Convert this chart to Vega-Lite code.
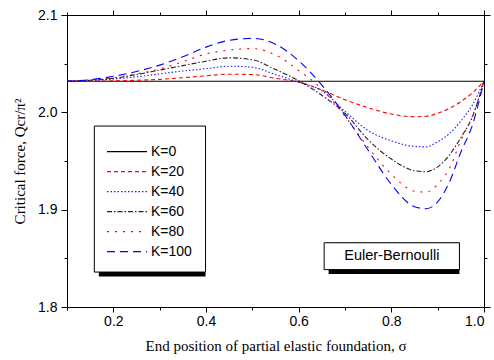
{
  "$schema": "https://vega.github.io/schema/vega-lite/v6.json",
  "autosize": {"type": "none"},
  "padding": {"left": 67, "top": 15, "right": 10, "bottom": 53},
  "width": 417,
  "height": 292,
  "background": "white",
  "config": {
    "view": {"stroke": null},
    "axis": {
      "labelFont": "Liberation Sans",
      "labelFontSize": 14,
      "labelColor": "black",
      "titleFont": "Liberation Serif",
      "titleFontSize": 15,
      "titleFontWeight": "normal",
      "titleColor": "black",
      "domainColor": "black",
      "domainWidth": 1,
      "tickColor": "black",
      "tickWidth": 1,
      "grid": false
    }
  },
  "datasets": {
    "curves": [
      {"s": 0.1, "v": 2.032, "K": "K=0"},
      {"s": 1.0, "v": 2.032, "K": "K=0"},

      {"s": 0.10, "v": 2.0320, "K": "K=20"},
      {"s": 0.15, "v": 2.0321, "K": "K=20"},
      {"s": 0.20, "v": 2.0323, "K": "K=20"},
      {"s": 0.25, "v": 2.0329, "K": "K=20"},
      {"s": 0.30, "v": 2.0339, "K": "K=20"},
      {"s": 0.35, "v": 2.0356, "K": "K=20"},
      {"s": 0.40, "v": 2.0375, "K": "K=20"},
      {"s": 0.45, "v": 2.0392, "K": "K=20"},
      {"s": 0.50, "v": 2.0388, "K": "K=20"},
      {"s": 0.55, "v": 2.0350, "K": "K=20"},
      {"s": 0.60, "v": 2.0310, "K": "K=20"},
      {"s": 0.65, "v": 2.0230, "K": "K=20"},
      {"s": 0.70, "v": 2.0130, "K": "K=20"},
      {"s": 0.75, "v": 2.0047, "K": "K=20"},
      {"s": 0.80, "v": 1.9982, "K": "K=20"},
      {"s": 0.85, "v": 1.9955, "K": "K=20"},
      {"s": 0.875, "v": 1.9960, "K": "K=20"},
      {"s": 0.90, "v": 1.9990, "K": "K=20"},
      {"s": 0.925, "v": 2.0040, "K": "K=20"},
      {"s": 0.95, "v": 2.0110, "K": "K=20"},
      {"s": 0.975, "v": 2.0200, "K": "K=20"},
      {"s": 1.00, "v": 2.0320, "K": "K=20"},

      {"s": 0.10, "v": 2.0320, "K": "K=40"},
      {"s": 0.15, "v": 2.0328, "K": "K=40"},
      {"s": 0.20, "v": 2.0342, "K": "K=40"},
      {"s": 0.25, "v": 2.0365, "K": "K=40"},
      {"s": 0.30, "v": 2.0395, "K": "K=40"},
      {"s": 0.35, "v": 2.0425, "K": "K=40"},
      {"s": 0.40, "v": 2.0448, "K": "K=40"},
      {"s": 0.45, "v": 2.0474, "K": "K=40"},
      {"s": 0.50, "v": 2.0463, "K": "K=40"},
      {"s": 0.55, "v": 2.0388, "K": "K=40"},
      {"s": 0.60, "v": 2.0310, "K": "K=40"},
      {"s": 0.65, "v": 2.0222, "K": "K=40"},
      {"s": 0.70, "v": 2.0010, "K": "K=40"},
      {"s": 0.75, "v": 1.9813, "K": "K=40"},
      {"s": 0.80, "v": 1.9707, "K": "K=40"},
      {"s": 0.85, "v": 1.9650, "K": "K=40"},
      {"s": 0.875, "v": 1.9645, "K": "K=40"},
      {"s": 0.90, "v": 1.9698, "K": "K=40"},
      {"s": 0.925, "v": 1.9780, "K": "K=40"},
      {"s": 0.95, "v": 1.9910, "K": "K=40"},
      {"s": 0.975, "v": 2.0075, "K": "K=40"},
      {"s": 1.00, "v": 2.0320, "K": "K=40"},

      {"s": 0.10, "v": 2.0320, "K": "K=60"},
      {"s": 0.15, "v": 2.0330, "K": "K=60"},
      {"s": 0.20, "v": 2.0350, "K": "K=60"},
      {"s": 0.25, "v": 2.0388, "K": "K=60"},
      {"s": 0.30, "v": 2.0434, "K": "K=60"},
      {"s": 0.35, "v": 2.0480, "K": "K=60"},
      {"s": 0.40, "v": 2.0525, "K": "K=60"},
      {"s": 0.45, "v": 2.0560, "K": "K=60"},
      {"s": 0.50, "v": 2.0540, "K": "K=60"},
      {"s": 0.55, "v": 2.0440, "K": "K=60"},
      {"s": 0.60, "v": 2.0325, "K": "K=60"},
      {"s": 0.65, "v": 2.0175, "K": "K=60"},
      {"s": 0.70, "v": 1.9990, "K": "K=60"},
      {"s": 0.75, "v": 1.9718, "K": "K=60"},
      {"s": 0.80, "v": 1.9520, "K": "K=60"},
      {"s": 0.85, "v": 1.9400, "K": "K=60"},
      {"s": 0.875, "v": 1.9390, "K": "K=60"},
      {"s": 0.90, "v": 1.9440, "K": "K=60"},
      {"s": 0.925, "v": 1.9560, "K": "K=60"},
      {"s": 0.95, "v": 1.9740, "K": "K=60"},
      {"s": 0.975, "v": 1.9955, "K": "K=60"},
      {"s": 1.00, "v": 2.0320, "K": "K=60"},

      {"s": 0.10, "v": 2.0320, "K": "K=80"},
      {"s": 0.15, "v": 2.0330, "K": "K=80"},
      {"s": 0.20, "v": 2.0355, "K": "K=80"},
      {"s": 0.25, "v": 2.0395, "K": "K=80"},
      {"s": 0.30, "v": 2.0445, "K": "K=80"},
      {"s": 0.35, "v": 2.0520, "K": "K=80"},
      {"s": 0.40, "v": 2.0600, "K": "K=80"},
      {"s": 0.45, "v": 2.0640, "K": "K=80"},
      {"s": 0.50, "v": 2.0655, "K": "K=80"},
      {"s": 0.55, "v": 2.0590, "K": "K=80"},
      {"s": 0.60, "v": 2.0430, "K": "K=80"},
      {"s": 0.65, "v": 2.0240, "K": "K=80"},
      {"s": 0.70, "v": 1.9960, "K": "K=80"},
      {"s": 0.75, "v": 1.9640, "K": "K=80"},
      {"s": 0.80, "v": 1.9365, "K": "K=80"},
      {"s": 0.85, "v": 1.9190, "K": "K=80"},
      {"s": 0.875, "v": 1.9180, "K": "K=80"},
      {"s": 0.90, "v": 1.9260, "K": "K=80"},
      {"s": 0.925, "v": 1.9420, "K": "K=80"},
      {"s": 0.95, "v": 1.9710, "K": "K=80"},
      {"s": 0.975, "v": 1.9960, "K": "K=80"},
      {"s": 1.00, "v": 2.0320, "K": "K=80"},

      {"s": 0.10, "v": 2.0320, "K": "K=100"},
      {"s": 0.15, "v": 2.0335, "K": "K=100"},
      {"s": 0.20, "v": 2.0370, "K": "K=100"},
      {"s": 0.25, "v": 2.0420, "K": "K=100"},
      {"s": 0.30, "v": 2.0485, "K": "K=100"},
      {"s": 0.35, "v": 2.0570, "K": "K=100"},
      {"s": 0.40, "v": 2.0670, "K": "K=100"},
      {"s": 0.45, "v": 2.0740, "K": "K=100"},
      {"s": 0.50, "v": 2.0760, "K": "K=100"},
      {"s": 0.55, "v": 2.0700, "K": "K=100"},
      {"s": 0.60, "v": 2.0530, "K": "K=100"},
      {"s": 0.65, "v": 2.0280, "K": "K=100"},
      {"s": 0.70, "v": 1.9970, "K": "K=100"},
      {"s": 0.75, "v": 1.9610, "K": "K=100"},
      {"s": 0.80, "v": 1.9260, "K": "K=100"},
      {"s": 0.85, "v": 1.9030, "K": "K=100"},
      {"s": 0.875, "v": 1.9010, "K": "K=100"},
      {"s": 0.90, "v": 1.9080, "K": "K=100"},
      {"s": 0.925, "v": 1.9280, "K": "K=100"},
      {"s": 0.95, "v": 1.9590, "K": "K=100"},
      {"s": 0.975, "v": 1.9870, "K": "K=100"},
      {"s": 1.00, "v": 2.0320, "K": "K=100"}
    ],
    "boxes": [
      {"box": "legend", "x1": 0.159, "x2": 0.399, "y1": 1.8359, "y2": 1.9859},
      {"box": "model", "x1": 0.655, "x2": 0.947, "y1": 1.8384, "y2": 1.866}
    ],
    "notes": [
      {"s": 0.801, "v": 1.8523, "label": "Euler-Bernoulli"}
    ]
  },
  "layer": [
    {
      "data": {"name": "boxes"},
      "mark": {"type": "rect", "fill": "black", "xOffset": 4.5, "yOffset": 4.5},
      "encoding": {
        "x": {"field": "x1", "type": "quantitative", "scale": {"domain": [0.1, 1.0], "nice": false}, "axis": null},
        "x2": {"field": "x2"},
        "y": {"field": "y1", "type": "quantitative", "scale": {"domain": [1.8, 2.1], "nice": false, "zero": false}, "axis": null},
        "y2": {"field": "y2"}
      }
    },
    {
      "data": {"name": "boxes"},
      "mark": {"type": "rect", "fill": "white", "stroke": "black", "strokeWidth": 1},
      "encoding": {
        "x": {"field": "x1", "type": "quantitative", "axis": null},
        "x2": {"field": "x2"},
        "y": {"field": "y1", "type": "quantitative", "axis": null},
        "y2": {"field": "y2"}
      }
    },
    {
      "data": {"name": "curves"},
      "mark": {"type": "line", "interpolate": "monotone", "clip": true},
      "encoding": {
        "x": {
          "field": "s", "type": "quantitative",
          "axis": {
            "orient": "bottom",
            "title": "End position of partial elastic foundation, σ",
            "values": [0.1, 0.2, 0.3, 0.4, 0.5, 0.6, 0.7, 0.8, 0.9, 1.0],
            "labelExpr": "round(datum.value*10) % 2 == 0 ? format(datum.value, '.1f') : ''",
            "tickSize": {"condition": {"test": "round(datum.value*10) % 2 == 0", "value": 5}, "value": 3},
            "labelPadding": 2,
            "titlePadding": 10
          }
        },
        "y": {
          "field": "v", "type": "quantitative",
          "axis": {
            "orient": "left",
            "title": "Critical force, Qcr/π²",
            "values": [1.8, 1.85, 1.9, 1.95, 2.0, 2.05, 2.1],
            "labelExpr": "round(datum.value*20) % 2 == 0 ? format(datum.value, '.1f') : ''",
            "tickSize": {"condition": {"test": "round(datum.value*20) % 2 == 0", "value": 6}, "value": 3},
            "labelPadding": 4,
            "titlePadding": 10
          }
        },
        "color": {
          "field": "K", "type": "nominal",
          "scale": {
            "domain": ["K=0", "K=20", "K=40", "K=60", "K=80", "K=100"],
            "range": ["#000000", "#ff0000", "#1a1aff", "#222222", "#ff0000", "#0000ff"]
          },
          "legend": {
            "orient": "none",
            "legendX": 39,
            "legendY": 127,
            "title": null,
            "symbolType": "stroke",
            "symbolSize": 1600,
            "labelFont": "Liberation Sans",
            "labelFontSize": 14,
            "labelColor": "black",
            "labelOffset": 3,
            "clipHeight": 19.2,
            "rowPadding": 0,
            "padding": 0
          }
        },
        "strokeDash": {
          "field": "K", "type": "nominal",
          "scale": {
            "domain": ["K=0", "K=20", "K=40", "K=60", "K=80", "K=100"],
            "range": [[1, 0], [4, 3], [1.5, 2], [5, 2, 1.5, 2], [2, 6], [8, 5]]
          }
        },
        "strokeWidth": {
          "field": "K", "type": "nominal",
          "scale": {
            "domain": ["K=0", "K=20", "K=40", "K=60", "K=80", "K=100"],
            "range": [1.1, 1.1, 1.2, 1.1, 2, 2]
          }
        }
      }
    },
    {
      "data": {"name": "notes"},
      "mark": {"type": "text", "font": "Liberation Sans", "fontSize": 14.5, "color": "black", "align": "center", "baseline": "middle"},
      "encoding": {
        "x": {
          "field": "s", "type": "quantitative",
          "axis": {
            "orient": "top", "title": null, "labels": false,
            "values": [0.1, 0.2, 0.3, 0.4, 0.5, 0.6, 0.7, 0.8, 0.9, 1.0],
            "tickSize": {"condition": {"test": "round(datum.value*10) % 2 == 0", "value": 5}, "value": 3}
          }
        },
        "y": {
          "field": "v", "type": "quantitative",
          "axis": {
            "orient": "right", "title": null, "labels": false,
            "values": [1.8, 1.85, 1.9, 1.95, 2.0, 2.05, 2.1],
            "tickSize": {"condition": {"test": "round(datum.value*20) % 2 == 0", "value": 6}, "value": 3}
          }
        },
        "text": {"field": "label"}
      }
    }
  ],
  "resolve": {"axis": {"x": "independent", "y": "independent"}}
}
